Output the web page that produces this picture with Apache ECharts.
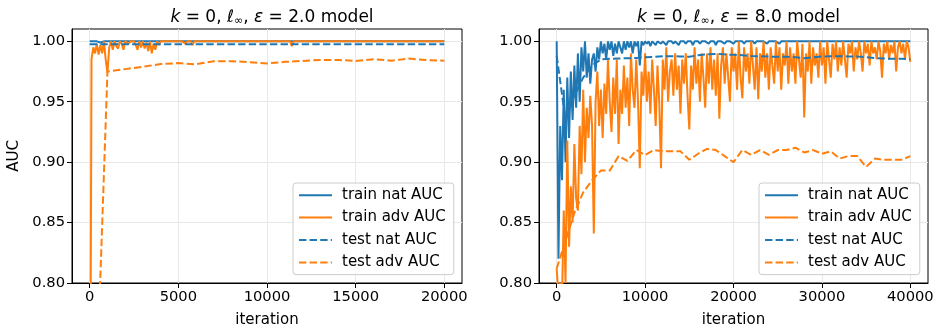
<!DOCTYPE html>
<html>
<head>
<meta charset="utf-8">
<script src="https://cdn.jsdelivr.net/npm/echarts@6/dist/echarts.min.js"></script>
<style>
  html, body { margin: 0; padding: 0; background: #fff; }
  #main { width: 938px; height: 333px; }
</style>
</head>
<body>
<div id="main"></div>
<script>
// left panel: eps = 2.0, 20000 iterations
const leftTrainStep = 100;
const leftTestStep = 1000;
const leftTrainNat = [
  1.0, 0.999, 1.0, 0.9985, 1.0, 1.0, 0.999, 1.0, 1.0, 0.9985, 1.0, 1.0, 1.0, 0.999, 1.0, 1.0, 1.0, 1.0, 1.0, 1.0,
  1.0, 1.0, 1.0, 1.0, 1.0, 1.0, 1.0, 1.0, 1.0, 1.0, 1.0, 1.0, 1.0, 1.0, 1.0, 1.0, 1.0, 1.0, 1.0, 1.0,
  1.0, 1.0, 1.0, 1.0, 1.0, 1.0, 1.0, 1.0, 1.0, 1.0, 1.0, 1.0, 1.0, 1.0, 1.0, 1.0, 1.0, 1.0, 1.0, 1.0,
  1.0, 1.0, 1.0, 1.0, 1.0, 1.0, 1.0, 1.0, 1.0, 1.0, 1.0, 1.0, 1.0, 1.0, 1.0, 1.0, 1.0, 1.0, 1.0, 1.0,
  1.0, 1.0, 1.0, 1.0, 1.0, 1.0, 1.0, 1.0, 1.0, 1.0, 1.0, 1.0, 1.0, 1.0, 1.0, 1.0, 1.0, 1.0, 1.0, 1.0,
  1.0, 1.0, 1.0, 1.0, 1.0, 1.0, 1.0, 1.0, 1.0, 1.0, 1.0, 1.0, 1.0, 1.0, 1.0, 1.0, 1.0, 1.0, 1.0, 1.0,
  1.0, 1.0, 1.0, 1.0, 1.0, 1.0, 1.0, 1.0, 1.0, 1.0, 1.0, 1.0, 1.0, 1.0, 1.0, 1.0, 1.0, 1.0, 1.0, 1.0,
  1.0, 1.0, 1.0, 1.0, 1.0, 1.0, 1.0, 1.0, 1.0, 1.0, 1.0, 1.0, 1.0, 1.0, 1.0, 1.0, 1.0, 1.0, 1.0, 1.0,
  1.0, 1.0, 1.0, 1.0, 1.0, 1.0, 1.0, 1.0, 1.0, 1.0, 1.0, 1.0, 1.0, 1.0, 1.0, 1.0, 1.0, 1.0, 1.0, 1.0,
  1.0, 1.0, 1.0, 1.0, 1.0, 1.0, 1.0, 1.0, 1.0, 1.0, 1.0, 1.0, 1.0, 1.0, 1.0, 1.0, 1.0, 1.0, 1.0, 1.0,
  1.0
];
const leftTrainAdv = [
  0.55, 0.985, 0.995, 0.99, 0.998, 0.989, 0.997, 0.99, 1.0, 0.985, 0.974, 0.995, 1.0, 0.993, 1.0, 0.996, 0.994, 1.0, 0.998, 0.993,
  1.0, 1.0, 0.998, 1.0, 0.999, 1.0, 0.997, 0.993, 1.0, 0.995, 1.0, 0.994, 0.999, 0.992, 1.0, 0.99, 0.998, 0.993, 1.0, 0.997,
  1.0, 1.0, 1.0, 0.999, 1.0, 1.0, 1.0, 1.0, 1.0, 1.0, 1.0, 1.0, 1.0, 1.0, 0.998, 1.0, 1.0, 1.0, 0.997, 1.0,
  1.0, 1.0, 1.0, 1.0, 1.0, 1.0, 1.0, 1.0, 1.0, 1.0, 1.0, 1.0, 1.0, 1.0, 1.0, 1.0, 1.0, 1.0, 1.0, 1.0,
  1.0, 1.0, 1.0, 1.0, 1.0, 1.0, 1.0, 1.0, 1.0, 1.0, 1.0, 1.0, 1.0, 1.0, 1.0, 1.0, 1.0, 1.0, 1.0, 1.0,
  1.0, 1.0, 1.0, 1.0, 1.0, 1.0, 1.0, 1.0, 1.0, 1.0, 1.0, 1.0, 1.0, 1.0, 0.996, 1.0, 1.0, 1.0, 1.0, 1.0,
  1.0, 1.0, 1.0, 1.0, 1.0, 1.0, 1.0, 1.0, 1.0, 1.0, 1.0, 1.0, 1.0, 1.0, 1.0, 1.0, 1.0, 1.0, 1.0, 1.0,
  1.0, 1.0, 1.0, 1.0, 1.0, 1.0, 1.0, 1.0, 1.0, 1.0, 1.0, 1.0, 1.0, 1.0, 1.0, 1.0, 1.0, 1.0, 1.0, 1.0,
  1.0, 1.0, 1.0, 1.0, 1.0, 1.0, 1.0, 1.0, 1.0, 1.0, 1.0, 1.0, 1.0, 1.0, 1.0, 1.0, 1.0, 1.0, 1.0, 1.0,
  1.0, 1.0, 1.0, 1.0, 1.0, 1.0, 1.0, 1.0, 1.0, 1.0, 1.0, 1.0, 1.0, 1.0, 1.0, 1.0, 1.0, 1.0, 1.0, 1.0,
  1.0
];
const leftTestNat = [
  0.9975, 0.9975, 0.9975, 0.9976, 0.9975, 0.9976, 0.9975, 0.9976, 0.9976, 0.9975, 0.9975,
  0.9976, 0.9975, 0.9976, 0.9975, 0.9976, 0.9975, 0.9976, 0.9975, 0.9976, 0.9976
];
const leftTestAdv = [
  0.55, 0.975, 0.977, 0.979, 0.9812, 0.982, 0.981, 0.9836, 0.9836, 0.9828, 0.9817,
  0.983, 0.9838, 0.9846, 0.9846, 0.9838, 0.9852, 0.984, 0.9857, 0.9845, 0.984
];

// right panel: eps = 8.0, 40000 iterations
const rightTrainStep = 200;
const rightTestStep = 1000;
const rightTrainNat = [
  1.0, 0.82, 0.93, 0.885, 0.96, 0.90, 0.97, 0.92, 0.975, 0.935, 0.98, 0.945, 0.99, 0.95, 0.995, 0.975, 1.0, 0.97, 0.99, 0.965,
  0.985, 0.99, 0.975, 0.995, 0.985, 1.0, 0.99, 0.998, 0.985, 1.0, 0.993, 1.0, 0.988, 0.998, 0.99, 1.0, 0.995, 0.99, 1.0, 0.993,
  1.0, 0.995, 1.0, 0.99, 1.0, 0.996, 1.0, 0.98, 1.0, 0.997, 1.0, 0.998, 1.0, 0.996, 1.0, 1.0, 0.997, 1.0, 1.0, 0.998,
  1.0, 1.0, 0.997, 1.0, 1.0, 1.0, 0.998, 1.0, 1.0, 0.997, 1.0, 1.0, 1.0, 0.998, 1.0, 1.0, 1.0, 0.997, 1.0, 1.0,
  1.0, 0.998, 1.0, 1.0, 1.0, 1.0, 0.998, 1.0, 1.0, 1.0, 0.997, 1.0, 1.0, 1.0, 1.0, 0.998, 1.0, 1.0, 1.0, 1.0,
  0.998, 1.0, 1.0, 1.0, 1.0, 1.0, 0.998, 1.0, 1.0, 1.0, 1.0, 1.0, 0.998, 1.0, 1.0, 1.0, 1.0, 1.0, 1.0, 0.998,
  1.0, 1.0, 1.0, 1.0, 1.0, 1.0, 0.998, 1.0, 1.0, 1.0, 1.0, 1.0, 1.0, 1.0, 1.0, 1.0, 1.0, 1.0, 1.0, 1.0,
  1.0, 1.0, 1.0, 1.0, 1.0, 1.0, 1.0, 1.0, 1.0, 1.0, 1.0, 1.0, 1.0, 1.0, 1.0, 1.0, 1.0, 1.0, 1.0, 1.0,
  1.0, 1.0, 1.0, 1.0, 1.0, 1.0, 1.0, 1.0, 1.0, 1.0, 1.0, 1.0, 1.0, 1.0, 1.0, 1.0, 1.0, 1.0, 1.0, 1.0,
  1.0, 1.0, 1.0, 1.0, 1.0, 1.0, 1.0, 1.0, 1.0, 1.0, 1.0, 1.0, 1.0, 1.0, 1.0, 1.0, 1.0, 1.0, 1.0, 1.0,
  1.0
];
const rightTrainAdv = [
  0.812, 0.79, 0.80, 0.785, 0.86, 0.80, 0.918, 0.83, 0.88, 0.85, 0.915, 0.87, 0.86, 0.93, 0.89, 0.96, 0.90, 0.945, 0.92, 0.955,
  0.93, 0.841, 0.95, 0.975, 0.93, 0.96, 0.92, 0.965, 0.94, 0.985, 0.95, 0.925, 0.97, 0.94, 0.985, 0.915, 0.96, 0.94, 0.98, 0.945,
  0.97, 0.93, 0.99, 0.96, 0.945, 0.985, 0.95, 0.895, 0.975, 0.955, 0.99, 0.95, 0.975, 0.94, 0.985, 0.96, 0.93, 0.98, 0.95, 0.895,
  0.985, 0.96, 0.995, 0.95, 0.975, 0.985, 0.955, 0.99, 0.96, 0.98, 0.94, 0.985, 0.965, 0.99, 0.955, 0.927, 0.98, 0.96, 0.995, 0.965,
  0.985, 0.95, 0.99, 0.97, 0.945, 0.99, 0.965, 0.995, 0.96, 0.985, 0.955, 0.99, 0.936, 0.98, 0.995, 0.965, 0.99, 0.97, 0.95, 0.995,
  0.975, 0.99, 0.96, 1.0, 0.97, 0.953, 0.995, 0.975, 0.99, 0.965, 1.0, 0.98, 0.96, 0.995, 0.952, 0.99, 0.975, 1.0, 0.97, 0.99,
  0.96, 0.995, 0.98, 0.965, 1.0, 0.975, 0.995, 0.96, 0.99, 0.98, 1.0, 0.965, 0.995, 0.975, 0.99, 0.965, 1.0, 0.985, 0.97, 0.998,
  0.937, 0.99, 0.975, 1.0, 0.965, 0.995, 0.98, 0.99, 0.97, 1.0, 0.98, 0.995, 0.965, 1.0, 0.985, 0.97, 0.998, 0.985, 1.0, 0.975,
  0.995, 0.98, 1.0, 0.985, 0.97, 0.998, 0.99, 1.0, 0.975, 0.995, 0.985, 1.0, 0.99, 0.975, 1.0, 0.99, 0.998, 0.98, 1.0, 0.99,
  0.995, 0.985, 1.0, 0.992, 0.97, 0.998, 0.99, 1.0, 0.985, 0.997, 0.99, 1.0, 0.975, 0.995, 1.0, 0.99, 0.998, 0.985, 1.0, 0.995,
  0.983
];
const rightTestNat = [
  0.988, 0.935, 0.955, 0.970, 0.980, 0.985, 0.9855, 0.9858, 0.986, 0.9862, 0.9868,
  0.9872, 0.9877, 0.9877, 0.9875, 0.9872, 0.9885, 0.9893, 0.9896, 0.9892, 0.9888,
  0.9885, 0.9878, 0.9877, 0.9874, 0.9872, 0.9873, 0.9868, 0.986, 0.9868, 0.9874,
  0.9877, 0.9877, 0.9875, 0.9874, 0.9868, 0.9862, 0.9858, 0.9855, 0.9855, 0.9852
];
const rightTestAdv = [
  0.812, 0.835, 0.858, 0.875, 0.885, 0.893, 0.893, 0.905, 0.901, 0.910, 0.906,
  0.910, 0.909, 0.909, 0.909, 0.902, 0.907, 0.911, 0.910, 0.905, 0.900,
  0.910, 0.906, 0.910, 0.906, 0.910, 0.910, 0.912, 0.908, 0.910, 0.907,
  0.909, 0.903, 0.905, 0.905, 0.896, 0.903, 0.902, 0.902, 0.902, 0.905
];

const leftXTicks = [0, 5000, 10000, 15000, 20000];
const rightXTicks = [0, 10000, 20000, 30000, 40000];
const yTicks = [0.80, 0.85, 0.90, 0.95, 1.00];
const seriesNames = ['train nat AUC', 'train adv AUC', 'test nat AUC', 'test adv AUC'];

const BLUE = '#1f77b4';
const ORANGE = '#ff7f0e';
const FONT = 'DejaVu Sans';

function pairs(vals, step) {
  return vals.map((v, i) => [i * step, v]);
}

function mkSeries(name, idx, data, color, dashed) {
  return {
    name: name,
    type: 'line',
    xAxisIndex: idx,
    yAxisIndex: idx,
    data: data,
    showSymbol: false,
    symbol: 'none',
    animation: false,
    clip: true,
    color: color,
    lineStyle: { color: color, width: 2, type: dashed ? [7.4, 3.2] : 'solid' },
    z: dashed ? 3 : 2
  };
}

function xAxis(idx, min, max, ticks) {
  return {
    type: 'value',
    gridIndex: idx,
    min: min,
    max: max,
    name: 'iteration',
    nameLocation: 'middle',
    nameGap: 30,
    nameTextStyle: { fontFamily: FONT, fontSize: 15, color: '#000' },
    axisLine: { show: true, onZero: false, lineStyle: { color: '#000', width: 1 } },
    axisTick: { show: true, inside: false, length: 5, customValues: ticks, lineStyle: { color: '#000', width: 1 } },
    axisLabel: { customValues: ticks, fontFamily: FONT, fontSize: 14.7, color: '#000', margin: 7,
      formatter: v => String(v) },
    splitLine: { show: true, customValues: ticks, lineStyle: { color: '#e8e8e8', width: 1 } }
  };
}

function yAxis(idx, withName) {
  return {
    type: 'value',
    gridIndex: idx,
    min: 0.8,
    max: 1.0102,
    name: withName ? 'AUC' : '',
    nameLocation: 'middle',
    nameGap: 50,
    nameRotate: 90,
    nameTextStyle: { fontFamily: FONT, fontSize: 15, color: '#000' },
    axisLine: { show: true, onZero: false, lineStyle: { color: '#000', width: 1 } },
    axisTick: { show: true, inside: false, length: 5, customValues: yTicks, lineStyle: { color: '#000', width: 1 } },
    axisLabel: { customValues: yTicks, fontFamily: FONT, fontSize: 14.7, color: '#000', margin: 7,
      formatter: v => v.toFixed(2) },
    splitLine: { show: true, customValues: yTicks, lineStyle: { color: '#e8e8e8', width: 1 } }
  };
}

function legend(left) {
  return {
    orient: 'vertical',
    left: left,
    top: 183,
    data: seriesNames,
    itemWidth: 33,
    itemHeight: 14,
    itemGap: 0,
    padding: [1, 8, 1, 5],
    backgroundColor: 'rgba(255,255,255,0.8)',
    borderColor: '#cccccc',
    borderWidth: 1,
    borderRadius: 3,
    selectedMode: false,
    itemStyle: { opacity: 0 },
    textStyle: { fontFamily: FONT, fontSize: 15, color: '#000', lineHeight: 22.4, padding: [0, 0, 0, 5] }
  };
}

function title(eps, centerX) {
  return {
    text: '{i|k} = 0, ℓ{s|∞}, {i|ε} = ' + eps + ' model',
    left: centerX,
    textAlign: 'center',
    top: 3,
    textStyle: {
      fontFamily: FONT, fontSize: 17, fontWeight: 'normal', color: '#000',
      rich: {
        i: { fontFamily: FONT, fontSize: 17, fontStyle: 'italic', color: '#000' },
        s: { fontFamily: FONT, fontSize: 11, color: '#000', padding: [8, 0, 0, 0] }
      }
    }
  };
}

const chart = echarts.init(document.getElementById('main'), null, { renderer: 'canvas' });

const option = {
  backgroundColor: '#fff',
  animation: false,
  title: [title('2.0', 267), title('8.0', 733.5)],
  grid: [
    { left: 72, right: 476, top: 29, bottom: 48, show: true, borderColor: '#000', borderWidth: 1, backgroundColor: 'transparent' },
    { left: 539, right: 10, top: 29, bottom: 48, show: true, borderColor: '#000', borderWidth: 1, backgroundColor: 'transparent' }
  ],
  xAxis: [xAxis(0, -1000, 21000, leftXTicks), xAxis(1, -2000, 42000, rightXTicks)],
  yAxis: [yAxis(0, true), yAxis(1, false)],
  legend: [legend(293), legend(759)],
  series: [
    mkSeries(seriesNames[0], 0, pairs(leftTrainNat, leftTrainStep), BLUE, false),
    mkSeries(seriesNames[1], 0, pairs(leftTrainAdv, leftTrainStep), ORANGE, false),
    mkSeries(seriesNames[2], 0, pairs(leftTestNat, leftTestStep), BLUE, true),
    mkSeries(seriesNames[3], 0, pairs(leftTestAdv, leftTestStep), ORANGE, true),
    mkSeries(seriesNames[0], 1, pairs(rightTrainNat, rightTrainStep), BLUE, false),
    mkSeries(seriesNames[1], 1, pairs(rightTrainAdv, rightTrainStep), ORANGE, false),
    mkSeries(seriesNames[2], 1, pairs(rightTestNat, rightTestStep), BLUE, true),
    mkSeries(seriesNames[3], 1, pairs(rightTestAdv, rightTestStep), ORANGE, true)
  ]
};

chart.setOption(option);
</script>
</body>
</html>
